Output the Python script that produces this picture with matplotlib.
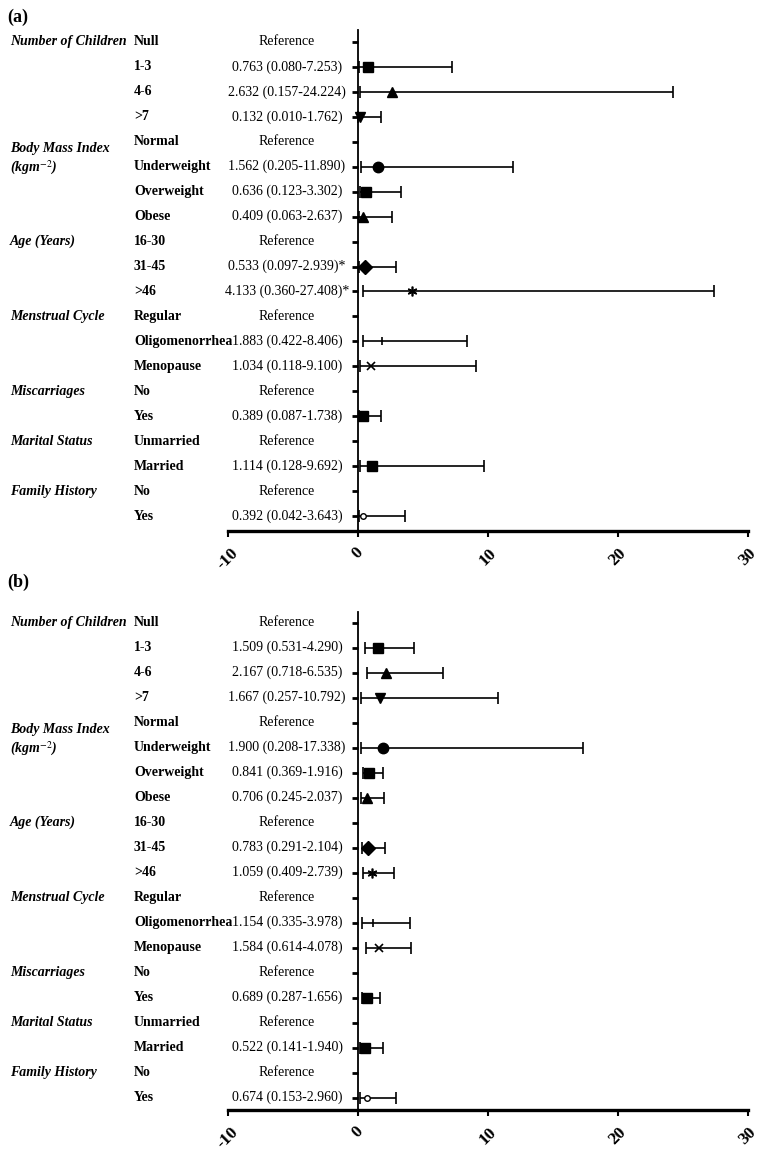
import numpy as np
import matplotlib
matplotlib.use("Agg")
import matplotlib.pyplot as plt
from matplotlib.transforms import blended_transform_factory

plt.rcParams["font.family"] = ["Liberation Serif", "DejaVu Serif"]
plt.rcParams["mathtext.fontset"] = "stix"

# row labels (shared by both panels)
categories = ["Number of Children", "", "", "",
              "Body Mass Index\n(kgm$^{-2}$)", "", "", "",
              "Age (Years)", "", "",
              "Menstrual Cycle", "", "",
              "Miscarriages", "",
              "Marital Status", "",
              "Family History", ""]
subgroups = ["Null", "1-3", "4-6", ">7",
             "Normal", "Underweight", "Overweight", "Obese",
             "16-30", "31-45", ">46",
             "Regular", "Oligomenorrhea", "Menopause",
             "No", "Yes",
             "Unmarried", "Married",
             "No", "Yes"]
markers = [None, "s", "^", "v",
           None, "o", "s", "^",
           None, "D", (6, 2, 0),
           None, "|", "x",
           None, "s",
           None, "s",
           None, "o"]

nan = np.nan
# panel (a)
or_a = [nan, 0.763, 2.632, 0.132, nan, 1.562, 0.636, 0.409, nan, 0.533, 4.133,
        nan, 1.883, 1.034, nan, 0.389, nan, 1.114, nan, 0.392]
lo_a = [nan, 0.080, 0.157, 0.010, nan, 0.205, 0.123, 0.063, nan, 0.097, 0.360,
        nan, 0.422, 0.118, nan, 0.087, nan, 0.128, nan, 0.042]
hi_a = [nan, 7.253, 24.224, 1.762, nan, 11.890, 3.302, 2.637, nan, 2.939, 27.408,
        nan, 8.406, 9.100, nan, 1.738, nan, 9.692, nan, 3.643]
star_a = [""] * 9 + ["*", "*"] + [""] * 9

# panel (b)
or_b = [nan, 1.509, 2.167, 1.667, nan, 1.900, 0.841, 0.706, nan, 0.783, 1.059,
        nan, 1.154, 1.584, nan, 0.689, nan, 0.522, nan, 0.674]
lo_b = [nan, 0.531, 0.718, 0.257, nan, 0.208, 0.369, 0.245, nan, 0.291, 0.409,
        nan, 0.335, 0.614, nan, 0.287, nan, 0.141, nan, 0.153]
hi_b = [nan, 4.290, 6.535, 10.792, nan, 17.338, 1.916, 2.037, nan, 2.104, 2.739,
        nan, 3.978, 4.078, nan, 1.656, nan, 1.940, nan, 2.960]
star_b = [""] * 20

xticks = [-10, 0, 10, 20, 30]

W, H = 773, 1153
fig = plt.figure(figsize=(W / 100, H / 100), dpi=100)


def panel(box, label, label_y, ors, los, his, stars, ylim):
    ax = fig.add_axes(box)
    rows = np.arange(len(subgroups))
    ax.set_xlim(-10, 30)
    ax.set_ylim(*ylim)

    for i in rows:
        if np.isnan(ors[i]):
            continue
        ax.errorbar(ors[i], i, xerr=[[ors[i] - los[i]], [his[i] - ors[i]]],
                    fmt="none", ecolor="black", elinewidth=1.2,
                    capsize=4, capthick=1.2)
        m = markers[i]
        if i == len(subgroups) - 1:
            ax.plot(ors[i], i, marker=m, ms=4, mfc="white", mec="black", mew=1)
        elif m in ("|", "x"):
            ax.plot(ors[i], i, marker=m, ms=6, color="black", mew=1.2)
        elif m == (6, 2, 0):
            ax.plot(ors[i], i, marker=m, ms=7, color="black", mew=1.2)
        else:
            ax.plot(ors[i], i, marker=m, ms=7.5, color="black")

    # zero line as the left spine
    ax.spines["left"].set_position(("data", 0))
    ax.spines["left"].set_linewidth(1.3)
    ax.spines["bottom"].set_linewidth(2.4)
    ax.spines["top"].set_visible(False)
    ax.spines["right"].set_visible(False)
    ax.set_yticks(rows)
    ax.set_yticklabels([])
    ax.tick_params(axis="y", direction="out", length=4, width=2)
    ax.set_xticks(xticks)
    ax.set_xticklabels([])
    ax.tick_params(axis="x", direction="out", length=4, width=1.5)

    for xt in xticks:
        ax.annotate(str(xt), (xt, 0), xycoords=("data", "axes fraction"),
                    xytext=(0, -10), textcoords="offset points",
                    rotation=45, ha="center", va="top",
                    fontsize=12.5, fontweight="bold")

    tr = blended_transform_factory(fig.transFigure, ax.transData)
    for i in rows:
        if categories[i]:
            ax.text(10 / W, i, categories[i], transform=tr, ha="left",
                    va="top" if "\n" in categories[i] else "center",
                    fontsize=10, fontweight="bold", style="italic",
                    linespacing=1.3)
        ax.text(134 / W, i, subgroups[i], transform=tr, ha="left",
                va="center", fontsize=10, fontweight="bold")
        if np.isnan(ors[i]):
            txt = "Reference"
        else:
            txt = f"{ors[i]:.3f} ({los[i]:.3f}-{his[i]:.3f}){stars[i]}"
        ax.text(287 / W, i, txt, transform=tr, ha="center", va="center",
                fontsize=10)

    fig.text(7 / W, 1 - label_y / H, label, fontsize=13, fontweight="bold",
             va="center", ha="left")
    return ax


left = 228 / W
width = 520 / W
# panel (a): top 30 px, axis 531 px
panel([left, 1 - 531 / H, width, (531 - 30) / H], "(a)", 17,
      or_a, lo_a, hi_a, star_a, (19.6, -0.48))
# panel (b): top 612 px, axis 1110 px
panel([left, 1 - 1110 / H, width, (1110 - 612) / H], "(b)", 582,
      or_b, lo_b, hi_b, star_b, (19.5, -0.42))

fig.savefig("out.png", dpi=100)
